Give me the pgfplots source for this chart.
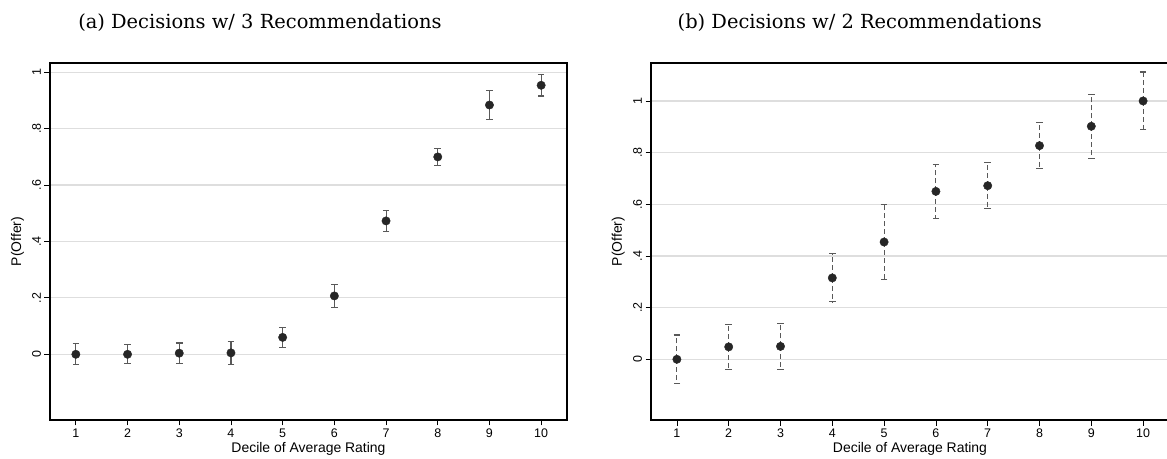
\documentclass[border=0pt]{standalone}
\usepackage{fontspec}
\setmainfont{Liberation Sans}
\newfontfamily\titlefont{DejaVu Serif}
\usepackage{pgfplots}
\usepackage{pgfplotstable}
\pgfplotsset{compat=1.18}

\pgfplotstableread{
x y e
1 0.000 0.037
2 0.000 0.034
3 0.004 0.036
4 0.005 0.040
5 0.060 0.036
6 0.207 0.041
7 0.473 0.037
8 0.700 0.030
9 0.884 0.052
10 0.954 0.038
}\dataA

\pgfplotstableread{
x y e
1 0.000 0.094
2 0.048 0.086
3 0.050 0.088
4 0.315 0.093
5 0.454 0.145
6 0.650 0.104
7 0.672 0.090
8 0.827 0.090
9 0.902 0.123
10 1.000 0.112
}\dataB

\pgfplotsset{
  common/.style={
    scale only axis,
    height=357bp,
    xmin=0.5, xmax=10.5,
    xtick={1,2,3,4,5,6,7,8,9,10},
    ytick={0,0.2,0.4,0.6,0.8,1},
    yticklabels={0,.2,.4,.6,.8,1},
    xtick pos=bottom, ytick pos=left,
    tick align=outside,
    major tick length=5.5bp,
    tick style={line width=0.8bp, black},
    axis line style={line width=1.1bp},
    ymajorgrids,
    grid style={line width=1.2bp, color=black!13},
    /pgf/number format/assume math mode=true,
    tick label style={font=\fontsize{12.5}{13}\selectfont},
    yticklabel style={rotate=90, anchor=south},
    label style={font=\fontsize{14}{15}\selectfont},
    xlabel={Decile of Average Rating},
    ylabel={P(Offer)},
    xlabel style={at={(axis description cs:0.5,-0.0924)}, anchor=base},
    ylabel style={at={(axis description cs:-0.063,0.5)}, anchor=center, rotate=0},
    title style={font=\titlefont\fontsize{19.5}{21}\selectfont, anchor=base},
  },
  dots/.style={only marks, mark=*, mark size=4.2bp, mark options={fill=black!85, draw=black!85, solid}},
}

\begin{document}
\begin{tikzpicture}
\useasboundingbox (0bp,0bp) rectangle (1167bp,459bp);
\begin{axis}[common, width=517bp, ymin=-0.233, ymax=1.033,
  at={(50bp,39bp)}, anchor=south west,
  title={(a) Decisions w/ 3 Recommendations},
  title style={at={(axis description cs:0.406,1.08)}}]
\addplot+[dots, error bars/.cd, y dir=both, y explicit, error mark=|,
  error bar style={line width=1.1bp, color=black!65, solid},
  error mark options={line width=1.1bp, color=black!65, mark size=3.3bp}]
  table[x=x, y=y, y error=e] {\dataA};
\end{axis}
\begin{axis}[common, width=518bp, ymin=-0.235, ymax=1.147,
  at={(651bp,39bp)}, anchor=south west,
  title={(b) Decisions w/ 2 Recommendations},
  title style={at={(axis description cs:0.403,1.08)}}]
\addplot+[dots, error bars/.cd, y dir=both, y explicit, error mark=|,
  error bar style={line width=1.1bp, color=black!65, dash pattern=on 5bp off 3bp},
  error mark options={line width=1.1bp, color=black!65, mark size=3.3bp, solid}]
  table[x=x, y=y, y error=e] {\dataB};
\end{axis}
\end{tikzpicture}
\end{document}
